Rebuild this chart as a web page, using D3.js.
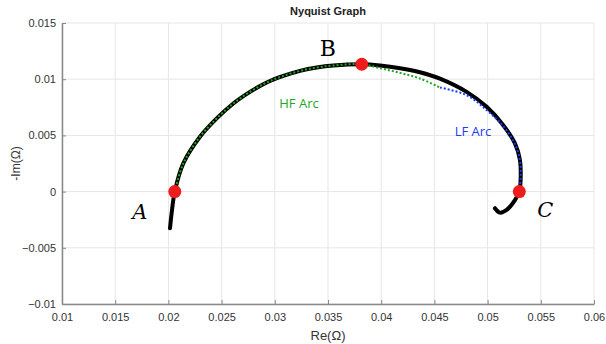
<!DOCTYPE html>
<html>
<head>
    <meta charset="utf-8">
    <script type="text/javascript" src="https://cdn.jsdelivr.net/npm/d3@7"></script>
    <title>Nyquist Graph</title>
    <style>
        body { margin: 0; background: #fff; }
        svg { display: block; font-family: "Liberation Sans", Arial, sans-serif; }
        .tick text { fill: #333; font-size: 11px; }
    </style>
</head>
<body>
    <div id="chart"></div>
    <script type="text/javascript">
        // measured curve, [Re, -Im]
        var measured = [
            [0.02015, -0.00326], [0.02034, -0.00163], [0.0206, 0], [0.0214, 0.00251],
            [0.02297, 0.00488], [0.02454, 0.00651], [0.0261, 0.00784], [0.02767, 0.00887],
            [0.02924, 0.00971], [0.0308, 0.01029], [0.03237, 0.01074], [0.03394, 0.01104],
            [0.0355, 0.01122], [0.03817, 0.01133], [0.03989, 0.01122], [0.04177, 0.01098],
            [0.04364, 0.01062], [0.04552, 0.01005], [0.04803, 0.00887], [0.04991, 0.00754],
            [0.05147, 0.00591], [0.05257, 0.00429], [0.05304, 0.00281], [0.05311, 0.00132],
            [0.05298, 0], [0.05257, -0.00075], [0.05179, -0.00163], [0.05116, -0.00187],
            [0.05069, -0.00148]
        ];
        var hfArc = [
            [0.0206, 0], [0.0214, 0.00251], [0.02297, 0.00488], [0.02454, 0.00651],
            [0.0261, 0.00784], [0.02767, 0.00887], [0.02924, 0.00971], [0.0308, 0.01029],
            [0.03237, 0.01074], [0.03394, 0.01104], [0.0355, 0.01122], [0.03817, 0.01133],
            [0.03989, 0.01098], [0.04177, 0.01056], [0.04364, 0.01006], [0.04552, 0.00926]
        ];
        var lfArc = [
            [0.04552, 0.00926], [0.04803, 0.00858], [0.04991, 0.00725], [0.05147, 0.00583],
            [0.05257, 0.00423], [0.05304, 0.00281], [0.05311, 0.00132], [0.05298, 0]
        ];
        var points = [
            { name: "A", re: 0.0206, im: 0 },
            { name: "B", re: 0.03817, im: 0.01133 },
            { name: "C", re: 0.05298, im: 0 }
        ];
        var xTicks = [0.01, 0.015, 0.02, 0.025, 0.03, 0.035, 0.04, 0.045, 0.05, 0.055, 0.06],
            yTicks = [-0.01, -0.005, 0, 0.005, 0.01, 0.015];

        var width = 606, height = 344,
            margin = { top: 23, right: 12, bottom: 40, left: 62 };

        var svg = d3.select("#chart").append("svg")
            .attr("width", width)
            .attr("height", height);

        var x = d3.scaleLinear().domain([0.01, 0.06]).range([margin.left, width - margin.right]),
            y = d3.scaleLinear().domain([-0.01, 0.015]).range([height - margin.bottom, margin.top]);

        // grid
        svg.append("g").selectAll("line.gx")
            .data(xTicks).enter().append("line")
            .attr("x1", x).attr("x2", x)
            .attr("y1", y(-0.01)).attr("y2", y(0.015))
            .attr("stroke", "#e6e6e6");
        svg.append("g").selectAll("line.gy")
            .data(yTicks).enter().append("line")
            .attr("y1", y).attr("y2", y)
            .attr("x1", x(0.01)).attr("x2", x(0.06))
            .attr("stroke", "#e6e6e6");

        var xAxis = svg.append("g")
            .attr("transform", "translate(0," + y(-0.01) + ")")
            .call(d3.axisBottom(x).tickValues(xTicks).tickFormat(d3.format("~g"))
                .tickSizeInner(-4).tickSizeOuter(0).tickPadding(8));
        var yAxis = svg.append("g")
            .attr("transform", "translate(" + x(0.01) + ",0)")
            .call(d3.axisLeft(y).tickValues(yTicks).tickFormat(d3.format("~g"))
                .tickSizeInner(-4).tickSizeOuter(0).tickPadding(6));
        [xAxis, yAxis].forEach(function (a) {
            a.select(".domain").attr("stroke", "#888").attr("stroke-width", 1.5);
            a.selectAll(".tick line").attr("stroke", "#888");
        });
        xAxis.selectAll(".tick text").attr("dy", "0.85em");

        var line = d3.line()
            .x(function (d) { return x(d[0]); })
            .y(function (d) { return y(d[1]); })
            .curve(d3.curveCatmullRom);

        svg.append("path").datum(measured)
            .attr("d", line).attr("fill", "none")
            .attr("stroke", "#000").attr("stroke-width", 4)
            .attr("stroke-linecap", "round");
        svg.append("path").datum(hfArc)
            .attr("d", line).attr("fill", "none")
            .attr("stroke", "#1fa51f").attr("stroke-width", 2)
            .attr("stroke-dasharray", "2,2");
        svg.append("path").datum(lfArc)
            .attr("d", line).attr("fill", "none")
            .attr("stroke", "#1a3cf5").attr("stroke-width", 2)
            .attr("stroke-dasharray", "2,2");

        svg.selectAll("circle.pt")
            .data(points).enter().append("circle")
            .attr("cx", function (d) { return x(d.re); })
            .attr("cy", function (d) { return y(d.im); })
            .attr("r", 6.5)
            .attr("fill", "#ee1c1c");

        // point labels
        var labelPos = { A: [-35, 27], B: [-34, -8], C: [26, 25] };
        svg.selectAll("text.pt")
            .data(points).enter().append("text")
            .attr("x", function (d) { return x(d.re) + labelPos[d.name][0]; })
            .attr("y", function (d) { return y(d.im) + labelPos[d.name][1]; })
            .attr("text-anchor", "middle")
            .style("font-family", "'DejaVu Serif', 'Liberation Serif', serif")
            .style("font-style", function (d) { return d.name === "B" ? "normal" : "italic"; })
            .style("font-size", function (d) { return d.name === "B" ? "22px" : "21px"; })
            .text(function (d) { return d.name; });

        svg.append("text")
            .attr("x", 299).attr("y", 108)
            .attr("text-anchor", "middle")
            .attr("fill", "#1fa51f")
            .style("font-family", "'Open Sans', sans-serif")
            .style("font-size", "13px")
            .text("HF Arc");
        svg.append("text")
            .attr("x", 473).attr("y", 136)
            .attr("text-anchor", "middle")
            .attr("fill", "#1a3cf5")
            .style("font-family", "'Open Sans', sans-serif")
            .style("font-size", "13px")
            .text("LF Arc");

        svg.append("text")
            .attr("x", (x(0.01) + x(0.06)) / 2).attr("y", 15)
            .attr("text-anchor", "middle")
            .style("font-weight", "bold").style("font-size", "11px")
            .attr("fill", "#222")
            .text("Nyquist Graph");
        svg.append("text")
            .attr("x", (x(0.01) + x(0.06)) / 2).attr("y", 340)
            .attr("text-anchor", "middle")
            .style("font-size", "13px").attr("fill", "#333")
            .text("Re(Ω)");
        svg.append("text")
            .attr("transform", "translate(20," + y(0.0025) + ") rotate(-90)")
            .attr("text-anchor", "middle")
            .style("font-size", "12px").attr("fill", "#333")
            .text("-Im(Ω)");
    </script>
</body>
</html>
